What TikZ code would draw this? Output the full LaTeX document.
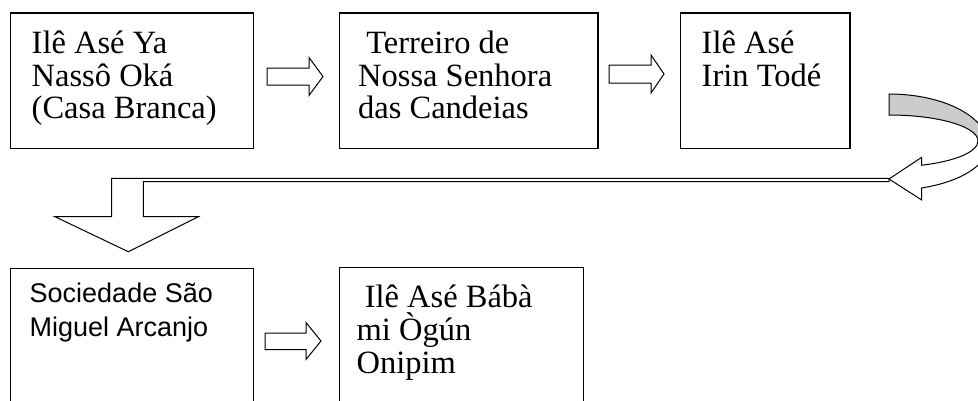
\documentclass[tikz,border=0pt]{standalone}
\usepackage{fontspec}
\setmainfont{Liberation Serif}
\newfontfamily\arialf{Liberation Sans}
\usetikzlibrary{calc}
\tikzset{
  box/.style={draw=black, line width=1.5pt, minimum width=#1, anchor=north west, inner sep=0pt},
  txt/.style={anchor=north west, inner sep=0pt, align=left, font=\fontsize{32.5}{32.8}\selectfont},
  atxt/.style={anchor=north west, inner sep=0pt, align=left, font=\arialf\fontsize{27}{34}\selectfont},
  blockarrow/.style={draw=black, line width=1pt, fill=white, line join=miter},
  backband/.style={draw=black, line width=1pt, fill=black!20},
}
\newcommand{\topstrut}{\rule{0pt}{30pt}}
\begin{document}
\begin{tikzpicture}[x=1pt,y=-1pt]
\useasboundingbox (0,0) rectangle (978,400);
\begin{scope}
\clip (0,0) rectangle (978,400);
% boxes
\node[box=243pt, minimum height=135.5pt] (b1) at (9.5,12) {};
\node[box=258.5pt, minimum height=135.5pt] (b2) at (338.5,12) {};
\node[box=169.5pt, minimum height=135.5pt] (b3) at (679.5,12) {};
\node[box=243pt, minimum height=150pt] (b4) at (9.5,267.5) {};
\node[box=244pt, minimum height=150pt] (b5) at (338.5,266.5) {};
% texts
\node[txt] (t1) at ($(b1.north west)+(22,11)$) {\topstrut Ilê Asé Ya\\Nassô Oká\\(Casa Branca)};
\node[txt] (t2) at ($(b2.north west)+(19.5,11)$) {\topstrut\hspace*{0.25em}Terreiro de\\Nossa Senhora\\das Candeias};
\node[txt] (t3) at ($(b3.north west)+(22,11)$) {\topstrut Ilê Asé\\Irin Todé};
\node[atxt] (t4) at ($(b4.north west)+(20,5.2)$) {\topstrut Sociedade São\\Miguel Arcanjo};
\node[txt] (t5) at ($(b5.north west)+(18,11)$) {\topstrut\hspace*{0.25em}Ilê Asé Bábà\\mi Ògún\\Onipim};
% straight block arrows
\draw[blockarrow] (267,68) -- (309,68) -- (309,57.5) -- (323,76.5) -- (309,95.5) -- (309,85) -- (267,85) -- cycle;
\draw[blockarrow] (609,65) -- (651,65) -- (651,55) -- (664,74) -- (651,93) -- (651,83) -- (609,83) -- cycle;
\draw[blockarrow] (265,333) -- (306,333) -- (306,322.5) -- (321,341) -- (306,359.5) -- (306,349.5) -- (265,349.5) -- cycle;
% bent arrow down
\draw[blockarrow] (889,178.3) -- (111.7,178.3) -- (111.7,216.7) -- (55,216.7) -- (128.3,251.7) -- (198.3,216.7) -- (143.3,216.7) -- (143.3,181.7) -- (889,181.7) -- cycle;
% curved arrow
\draw[backband] (889,94) arc[start angle=-90, end angle=0, x radius=99, y radius=51.5] -- (978,141) arc[start angle=0, end angle=-90, x radius=89, y radius=26] -- cycle;
\draw[blockarrow] (921.7,165.2) arc[start angle=68.4, end angle=0, x radius=89, y radius=26] -- (988,145.5) arc[start angle=0, end angle=70.7, x radius=99, y radius=45] -- (921.7,200) -- (889,179) -- (921.7,157.3) -- cycle;
\end{scope}
\end{tikzpicture}
\end{document}
